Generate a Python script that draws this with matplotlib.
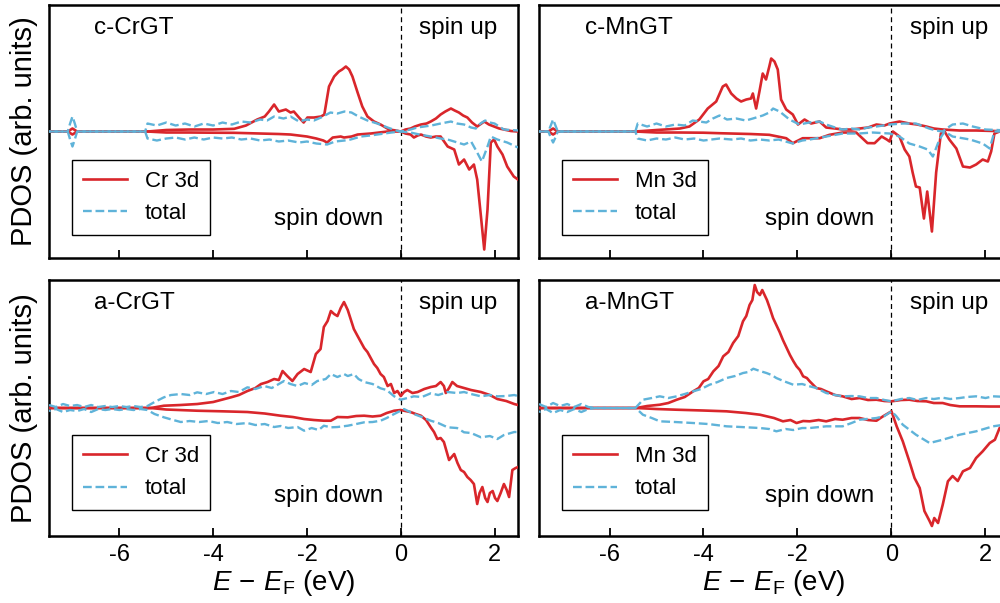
import numpy as np
import matplotlib
matplotlib.use("Agg")
import matplotlib.pyplot as plt

plt.rcParams['font.family'] = ['Liberation Sans', 'DejaVu Sans']
plt.rcParams['mathtext.fontset'] = 'custom'
plt.rcParams['mathtext.rm'] = 'Liberation Sans'
plt.rcParams['mathtext.it'] = 'Liberation Sans:italic'
plt.rcParams['axes.unicode_minus'] = False

# ---------------- data (arb. units) ----------------
# c-CrGT
cCr_d_up_E = [-7.5, -7.1, -7.0, -6.9, -5.4, -5.0, -4.5, -4.0, -3.55, -3.3, -3.06, -2.9, -2.81, -2.7, -2.6, -2.45, -2.35, -2.28, -2.17, -2.07, -1.99, -1.85, -1.7, -1.63, -1.53, -1.42, -1.32, -1.25, -1.17, -1.1, -1.03, -0.92, -0.82, -0.71, -0.57, -0.43, -0.25, -0.1, 0.0, 0.1, 0.21, 0.3, 0.43, 0.55, 0.64, 0.75, 0.85, 0.95, 1.07, 1.15, 1.24, 1.33, 1.42, 1.52, 1.63, 1.72, 1.78, 1.88, 1.99, 2.1, 2.2, 2.35, 2.5]
cCr_d_up = [0, 0, 3, 0, 0, 1.5, 2, 2, 2.7, 6, 12, 15, 20, 27, 20, 22, 19, 20, 14, 9, 14, 14, 15, 17, 45, 55, 60, 62, 65, 62, 55, 39, 25, 15, 10, 7, 2, 1, 0, 2, 3, 5, 7, 8, 10, 13, 17, 20, 23, 21, 19, 16, 14, 9, 5, 8, 10, 7, 5, 3, 2, 0.5, 0]
cCr_d_dn_E = [-7.5, -7.1, -7.0, -6.9, -5.4, -5.0, -4.5, -4.0, -3.55, -3.0, -2.6, -2.35, -2.0, -1.8, -1.65, -1.57, -1.45, -1.28, -1.21, -1.05, -0.92, -0.64, -0.28, 0.0, 0.1, 0.21, 0.28, 0.36, 0.43, 0.54, 0.64, 0.75, 0.85, 1.0, 1.14, 1.24, 1.35, 1.46, 1.56, 1.63, 1.71, 1.78, 1.85, 1.92, 1.99, 2.06, 2.17, 2.27, 2.41, 2.5]
cCr_d_dn = [0, 0, -3, 0, 0, -1, -1, -1.2, -1.3, -2, -2.5, -3, -5, -7, -9, -11, -6, -5, -6, -5, -3, -2, 0, 0, -2, -3, -6, -4, -3, -5, -6, -5, -5, -15, -18, -33, -28, -38, -33, -48, -85, -118, -78, -11, -8, -15, -23, -35, -45, -48]
cCr_t_up_E = [-7.5, -7.1, -7.05, -7.0, -6.95, -6.9, -5.45, -5.4, -5.2, -5.0, -4.8, -4.6, -4.4, -4.2, -4.0, -3.8, -3.6, -3.4, -3.2, -3.0, -2.85, -2.7, -2.5, -2.35, -2.17, -2.0, -1.85, -1.7, -1.5, -1.35, -1.2, -1.05, -0.9, -0.71, -0.5, -0.28, -0.1, 0.0, 0.21, 0.35, 0.5, 0.65, 0.85, 1.07, 1.2, 1.35, 1.5, 1.6, 1.7, 1.8, 1.9, 2.0, 2.2, 2.5]
cCr_t_up = [0, 0, 8, 15, 8, 0, 0, 8, 6, 9, 6, 8, 5, 8, 6, 9, 7, 10, 9, 12, 11, 15, 13, 15, 10, 12, 11, 14, 19, 18, 20, 19, 15, 11, 8, 4, 1, 0, 2, 4, 5, 6, 8, 10, 8, 7, 4, 3, 8, 11, 9, 8, 2, 1]
cCr_t_dn_E = [-7.5, -7.1, -7.05, -7.0, -6.95, -6.9, -5.45, -5.4, -5.2, -5.0, -4.8, -4.6, -4.4, -4.2, -4.0, -3.8, -3.6, -3.4, -3.2, -3.0, -2.8, -2.6, -2.4, -2.17, -2.0, -1.8, -1.57, -1.4, -1.2, -1.07, -0.85, -0.65, -0.5, -0.2, 0.0, 0.21, 0.4, 0.64, 0.85, 1.0, 1.14, 1.35, 1.5, 1.63, 1.73, 1.85, 1.92, 2.06, 2.27, 2.5]
cCr_t_dn = [0, 0, -8, -15, -8, 0, 0, -7, -9, -7, -6, -8, -6, -8, -6, -7, -6, -8, -7, -9, -8, -10, -9, -11, -10, -12, -13, -10, -9, -8, -5, -4, -3, -1, 0, -1, -3, -5, -7, -8, -10, -13, -10, -21, -30, -15, -5, -8, -11, -16]

# c-MnGT
cMn_d_up_E = [-7.5, -7.3, -7.2, -7.1, -5.45, -5.0, -4.72, -4.5, -4.3, -4.09, -3.91, -3.73, -3.59, -3.52, -3.41, -3.30, -3.2, -3.09, -2.99, -2.95, -2.88, -2.81, -2.74, -2.67, -2.6, -2.56, -2.49, -2.42, -2.35, -2.24, -2.10, -1.99, -1.85, -1.71, -1.53, -1.39, -1.2, -1.04, -0.85, -0.68, -0.5, -0.32, -0.15, -0.04, 0.17, 0.38, 0.55, 0.74, 0.9, 1.09, 1.45, 1.8, 2.2, 2.5]
cMn_d_up = [0, 0, 3, 0, 0, 1.5, 2.3, 3, 5, 12, 23, 30, 45, 47, 38, 33, 30, 32, 33, 38, 23, 40, 58, 52, 65, 73, 70, 62, 32, 22, 17, 7, 12, 8, 10, 4, 3, 2, 2, 3, 4, 7, 6, 8, 10, 8, 7, 5, 3, 2, 1, 1, 0.5, 0]
cMn_d_dn_E = [-7.5, -7.3, -7.2, -7.1, -5.45, -5.0, -4.5, -4.0, -3.66, -3.0, -2.6, -2.24, -2.1, -1.89, -1.74, -1.53, -1.32, -1.04, -0.75, -0.51, -0.36, -0.21, -0.1, -0.04, 0.03, 0.17, 0.28, 0.38, 0.45, 0.52, 0.6, 0.69, 0.76, 0.86, 0.95, 1.05, 1.13, 1.23, 1.38, 1.52, 1.67, 1.8, 1.94, 2.05, 2.12, 2.19, 2.3, 2.5]
cMn_d_dn = [0, 0, -3, 0, 0, -1, -1, -1.2, -1.7, -2.5, -3.3, -6.7, -11.7, -6.7, -6.7, -6.7, -3.3, -1, -1, -11.6, -11.7, -5, -8, -10, 0, -5, -18, -25, -41, -55, -56, -87, -60, -100, -41, -2, 0, -8, -17, -35, -36, -33, -28, -30, -20, -2, 0, 0]
cMn_t_up_E = [-7.5, -7.3, -7.25, -7.2, -7.15, -7.1, -5.45, -5.4, -5.2, -5.0, -4.8, -4.6, -4.4, -4.23, -3.94, -3.8, -3.66, -3.5, -3.3, -3.1, -2.95, -2.74, -2.6, -2.52, -2.38, -2.17, -1.96, -1.75, -1.53, -1.39, -1.2, -1.04, -0.85, -0.68, -0.5, -0.32, -0.04, 0.24, 0.52, 0.8, 0.95, 1.09, 1.2, 1.3, 1.52, 1.73, 2.0, 2.5]
cMn_t_up = [0, 0, 6, 12, 6, 0, 0, 8, 5, 8, 5, 7, 6, 11, 9, 13, 16, 12, 13, 11, 13, 16, 19, 23, 20, 12, 7, 9, 10, 7, 4, 2, 3, 2, 4, 5, 7, 8, 8, 3, 1, 0, 4, 7, 8, 5, 2, 1]
cMn_t_dn_E = [-7.5, -7.3, -7.25, -7.2, -7.15, -7.1, -5.45, -5.4, -5.2, -5.0, -4.8, -4.6, -4.4, -4.2, -4.0, -3.66, -3.4, -3.2, -3.0, -2.8, -2.6, -2.4, -2.1, -1.9, -1.74, -1.39, -1.04, -0.7, -0.4, -0.04, 0.17, 0.38, 0.6, 0.77, 0.88, 1.02, 1.13, 1.3, 1.67, 1.94, 2.09, 2.19, 2.5]
cMn_t_dn = [0, 0, -6, -11, -6, 0, 0, -7, -9, -7, -8, -6, -8, -7, -9, -7, -8, -7, -9, -8, -9, -8, -12, -9, -8, -5, -2, -2, -1, -2, -5, -12, -15, -18, -25, -8, 0, -5, -8, -12, -17, 0, 0]

# a-CrGT
aCr_d_up_E = [-7.5, -5.33, -5.05, -4.7, -4.34, -4.0, -3.62, -3.45, -3.27, -3.1, -2.98, -2.84, -2.70, -2.6, -2.52, -2.42, -2.31, -2.2, -2.06, -1.92, -1.81, -1.71, -1.64, -1.56, -1.49, -1.42, -1.35, -1.28, -1.21, -1.13, -1.0, -0.92, -0.85, -0.78, -0.71, -0.64, -0.57, -0.5, -0.43, -0.36, -0.28, -0.21, -0.14, -0.07, 0.0, 0.07, 0.14, 0.25, 0.36, 0.5, 0.64, 0.75, 0.85, 0.92, 0.96, 1.03, 1.1, 1.2, 1.35, 1.5, 1.71, 1.9, 2.06, 2.25, 2.42, 2.5]
aCr_d_up = [0, 0, 2.3, 3, 4, 6, 10.7, 13, 17, 20, 24, 26, 29, 28, 37, 32, 27, 34, 39, 36, 54, 59, 81, 87, 97, 94, 92, 100, 106, 98, 79, 72, 66, 60, 56, 50, 44, 40, 34, 31, 22, 24, 15, 17, 12, 16, 18, 15, 16, 19, 21, 22, 26, 22, 15, 20, 26, 22, 20, 18, 16, 13, 9, 7, 4, 3]
aCr_d_dn_E = [-7.5, -5.33, -5.0, -4.34, -3.8, -3.27, -2.9, -2.56, -2.3, -2.06, -1.85, -1.64, -1.49, -1.35, -1.13, -0.95, -0.78, -0.6, -0.43, -0.3, -0.14, 0.0, 0.1, 0.21, 0.32, 0.43, 0.54, 0.64, 0.71, 0.78, 0.85, 0.92, 1.03, 1.14, 1.21, 1.28, 1.35, 1.42, 1.49, 1.56, 1.63, 1.68, 1.74, 1.8, 1.85, 1.9, 1.96, 2.01, 2.06, 2.13, 2.2, 2.26, 2.31, 2.38, 2.45, 2.5]
aCr_d_dn = [0, 0, -1.5, -2.7, -3.3, -4, -5.5, -7.7, -9, -11, -12, -12.7, -12.7, -9, -9.3, -8, -7.7, -8.5, -7.7, -5, -2.7, -2, -3, -4, -6, -7.7, -12, -19.3, -24, -31, -30, -34, -52, -46, -55, -62, -64, -69, -72, -76, -96, -85, -79, -90, -94, -85, -83, -90, -93, -85, -76, -82, -89, -62, -60, -59]
aCr_t_up_E = [-7.5, -7.35, -7.2, -7.05, -6.9, -6.75, -6.6, -6.45, -6.3, -6.15, -6.0, -5.85, -5.7, -5.55, -5.4, -5.25, -5.05, -4.9, -4.69, -4.5, -4.34, -4.15, -3.98, -3.8, -3.62, -3.45, -3.27, -3.1, -2.91, -2.75, -2.6, -2.49, -2.35, -2.2, -2.05, -1.9, -1.78, -1.6, -1.49, -1.35, -1.21, -1.13, -1.0, -0.9, -0.78, -0.6, -0.43, -0.3, -0.14, 0.0, 0.14, 0.28, 0.45, 0.64, 0.8, 1.0, 1.2, 1.35, 1.5, 1.71, 1.9, 2.06, 2.25, 2.42, 2.5]
aCr_t_up = [3, 1, 4, 2, 3, 1, 3, 1, 2, 1, 2, 1, 2, 1, 2, 6, 10.7, 13, 14, 13, 15.7, 14, 16, 14, 17, 16, 20.7, 19, 22, 20, 24, 27, 24, 22, 25, 23, 27, 29, 34, 31, 34, 32, 34, 29, 26, 24, 19.7, 18, 11.7, 8.3, 10, 11.7, 11, 14.7, 13, 16, 15, 16, 14, 11.7, 13, 11.7, 12, 13, 12]
aCr_t_dn_E = [-7.5, -7.35, -7.2, -7.05, -6.9, -6.75, -6.6, -6.45, -6.3, -6.15, -6.0, -5.85, -5.7, -5.55, -5.4, -5.25, -5.05, -4.85, -4.69, -4.5, -4.3, -4.1, -3.9, -3.7, -3.5, -3.27, -3.1, -2.9, -2.7, -2.56, -2.4, -2.2, -2.06, -1.9, -1.75, -1.64, -1.49, -1.35, -1.13, -0.95, -0.78, -0.6, -0.43, -0.3, -0.14, 0.07, 0.28, 0.45, 0.64, 0.8, 1.0, 1.2, 1.35, 1.5, 1.71, 1.9, 2.06, 2.2, 2.42, 2.5]
aCr_t_dn = [-3, -1, -4, -2, -3, -1, -4, -1, -2, -1, -2, -1, -2, -1, -2, -6, -9.3, -12, -14, -13, -14, -13, -15, -14, -16, -15, -17, -16, -19, -18, -20, -19, -22.7, -20, -22, -17.7, -19.3, -19, -17.7, -16, -14.3, -14, -12.7, -10, -6, -1, -6, -9, -12.7, -15, -19.3, -20, -24.3, -25, -29.3, -28, -31, -27, -24, -24]

# a-MnGT
aMn_d_up_E = [-7.5, -5.43, -5.2, -4.93, -4.75, -4.57, -4.4, -4.22, -4.1, -4.0, -3.9, -3.79, -3.68, -3.58, -3.47, -3.37, -3.26, -3.16, -3.09, -3.02, -2.96, -2.91, -2.86, -2.8, -2.75, -2.7, -2.65, -2.59, -2.52, -2.45, -2.38, -2.31, -2.23, -2.16, -2.09, -2.02, -1.95, -1.88, -1.8, -1.74, -1.6, -1.5, -1.39, -1.2, -1.04, -0.85, -0.68, -0.5, -0.32, -0.15, 0.0, 0.2, 0.38, 0.55, 0.74, 0.9, 1.09, 1.25, 1.45, 1.8, 2.1, 2.5]
aMn_d_up = [0, 0, 2, 3.3, 5, 8.3, 11, 16.7, 20, 26.7, 29, 36.7, 42, 51.7, 56, 65, 72, 86.7, 92, 103, 108, 123, 116, 113, 118, 113, 108, 100, 90, 83, 76, 68, 60, 53, 47, 41.7, 38, 31.7, 30, 26.7, 20, 19, 16.7, 13, 11.7, 9, 10, 8, 8.3, 7, 6.7, 8, 8.3, 7, 6.7, 5, 5, 3, 1.7, 1.7, 1.5, 1.5]
aMn_d_dn_E = [-7.5, -5.43, -5.0, -4.57, -4.0, -3.51, -3.1, -2.8, -2.5, -2.31, -2.15, -2.02, -1.88, -1.74, -1.55, -1.39, -1.2, -1.04, -0.85, -0.68, -0.5, -0.32, -0.18, 0.0, 0.11, 0.24, 0.38, 0.49, 0.6, 0.7, 0.81, 0.86, 0.91, 0.99, 1.09, 1.2, 1.3, 1.41, 1.52, 1.67, 1.8, 1.94, 2.09, 2.2, 2.3, 2.5]
aMn_d_dn = [0, 0, -1, -1.7, -2.5, -3.3, -5, -6.7, -10, -13.3, -12, -15, -13, -13.3, -12, -13.3, -11, -11.7, -10, -10, -12, -12.7, -8.3, -3.3, -18.3, -33.3, -53.3, -70, -80, -103, -113, -118, -110, -115, -96.7, -73.3, -68, -73, -63.3, -60, -50, -43.3, -35, -31.7, -20, -15]
aMn_t_up_E = [-7.5, -7.35, -7.2, -7.05, -6.9, -6.75, -6.6, -6.45, -6.3, -6.15, -5.45, -5.35, -5.29, -5.1, -4.93, -4.75, -4.57, -4.4, -4.22, -4.05, -3.87, -3.7, -3.51, -3.33, -3.16, -3.05, -2.94, -2.8, -2.66, -2.55, -2.45, -2.3, -2.09, -1.9, -1.74, -1.6, -1.39, -1.2, -1.04, -0.85, -0.68, -0.5, -0.32, -0.15, 0.0, 0.2, 0.38, 0.55, 0.74, 0.9, 1.09, 1.25, 1.45, 1.6, 1.8, 2.0, 2.16, 2.5]
aMn_t_up = [4, 1, 5, 2, 4, 1, 4, 1, 0, 0, 0, 5, 8.3, 10, 11.7, 10, 11.7, 14, 16.7, 19, 23.3, 26, 30, 32, 35, 36, 39.3, 37, 35, 33, 30, 27, 23.3, 24, 21.7, 20, 15, 13, 11.7, 12, 11.7, 10, 10, 8, 6.7, 9, 10, 8, 10, 9, 10.3, 9, 10, 11, 11.7, 10, 11.7, 11]
aMn_t_dn_E = [-7.5, -7.35, -7.2, -7.05, -6.9, -6.75, -6.6, -6.45, -6.3, -6.15, -5.45, -5.35, -5.29, -5.1, -4.93, -4.6, -4.22, -3.9, -3.51, -3.2, -2.8, -2.6, -2.45, -2.25, -2.09, -1.9, -1.74, -1.39, -1.04, -0.85, -0.68, -0.32, -0.15, 0.0, 0.1, 0.24, 0.52, 0.81, 1.09, 1.45, 1.8, 2.16, 2.5]
aMn_t_dn = [-4, -1, -5, -2, -4, -1, -4, -1, 0, 0, 0, -4, -6.7, -10, -13.3, -14, -15, -16, -18.3, -19, -20, -21, -23.3, -21, -22, -20, -20, -18.3, -18.3, -15, -11.7, -10, -8, -3.3, -8, -16.7, -26.7, -35, -31.7, -26.7, -23.3, -18.3, -16]

panel_names = ["c-CrGT", "c-MnGT", "a-CrGT", "a-MnGT"]
orbital_labels = ["Cr 3d", "Mn 3d", "Cr 3d", "Mn 3d"]
xticks = [-6, -4, -2, 0, 2]

panels = [
    (cCr_d_up_E, cCr_d_up, cCr_d_dn_E, cCr_d_dn, cCr_t_up_E, cCr_t_up, cCr_t_dn_E, cCr_t_dn),
    (cMn_d_up_E, cMn_d_up, cMn_d_dn_E, cMn_d_dn, cMn_t_up_E, cMn_t_up, cMn_t_dn_E, cMn_t_dn),
    (aCr_d_up_E, aCr_d_up, aCr_d_dn_E, aCr_d_dn, aCr_t_up_E, aCr_t_up, aCr_t_dn_E, aCr_t_dn),
    (aMn_d_up_E, aMn_d_up, aMn_d_dn_E, aMn_d_dn, aMn_t_up_E, aMn_t_up, aMn_t_dn_E, aMn_t_dn),
]

RED = '#d9262b'
BLUE = '#5fb3d9'

fig = plt.figure(figsize=(10, 6.03), dpi=100)
positions = [
    [0.049, 0.5721, 0.469, 0.4196],
    [0.539, 0.5721, 0.470, 0.4196],
    [0.049, 0.1111, 0.469, 0.4245],
    [0.539, 0.1111, 0.470, 0.4245],
]
ylims = [126.5, 126.5, 128, 128]

for i, (pos, data) in enumerate(zip(positions, panels)):
    ax = fig.add_axes(pos)
    dE_u, d_u, dE_d, d_d, tE_u, t_u, tE_d, t_d = data
    ax.plot(dE_u, d_u, color=RED, lw=1.9, label=orbital_labels[i], zorder=3)
    ax.plot(dE_d, d_d, color=RED, lw=1.9, zorder=3)
    ax.plot(tE_u, t_u, color=BLUE, lw=1.7, ls='--', label='total', zorder=4)
    ax.plot(tE_d, t_d, color=BLUE, lw=1.7, ls=(3.0, (3.7, 1.6)), zorder=4)
    ax.axvline(0, color='black', lw=0.9, ls=(0, (4, 3)), zorder=2)
    ax.set_xlim(-7.5, 2.5)
    ax.set_ylim(-ylims[i], ylims[i])
    ax.set_xticks(xticks)
    ax.set_yticks([])
    ax.tick_params(axis='x', direction='in', length=6, width=1.3, labelsize=17, pad=6)
    for s in ax.spines.values():
        s.set_linewidth(1.8)
    if i < 2:
        ax.tick_params(axis='x', labelbottom=False)
    else:
        ax.set_xlabel(r'$E\,-\,E_{\rm F}$ (eV)', fontsize=20, labelpad=1)
    if i % 2 == 0:
        ax.set_ylabel('PDOS (arb. units)', fontsize=21, labelpad=8)
    ax.text(0.097, 0.91, panel_names[i], transform=ax.transAxes, fontsize=17.5,
            ha='left', va='center')
    ax.text(0.955, 0.91, 'spin up', transform=ax.transAxes, fontsize=17.5,
            ha='right', va='center')
    ax.text(0.713, 0.155, 'spin down', transform=ax.transAxes, fontsize=17.5,
            ha='right', va='center')
    leg = ax.legend(loc='lower left', bbox_to_anchor=(0.048, 0.09 if i < 2 else 0.1),
                    fontsize=16, frameon=True, fancybox=False, framealpha=1,
                    edgecolor='black', handlelength=2.0, handletextpad=0.8,
                    labelspacing=0.5, borderpad=0.5, borderaxespad=0)
    leg.get_frame().set_linewidth(1.0)

fig.savefig('out.png', dpi=100)
